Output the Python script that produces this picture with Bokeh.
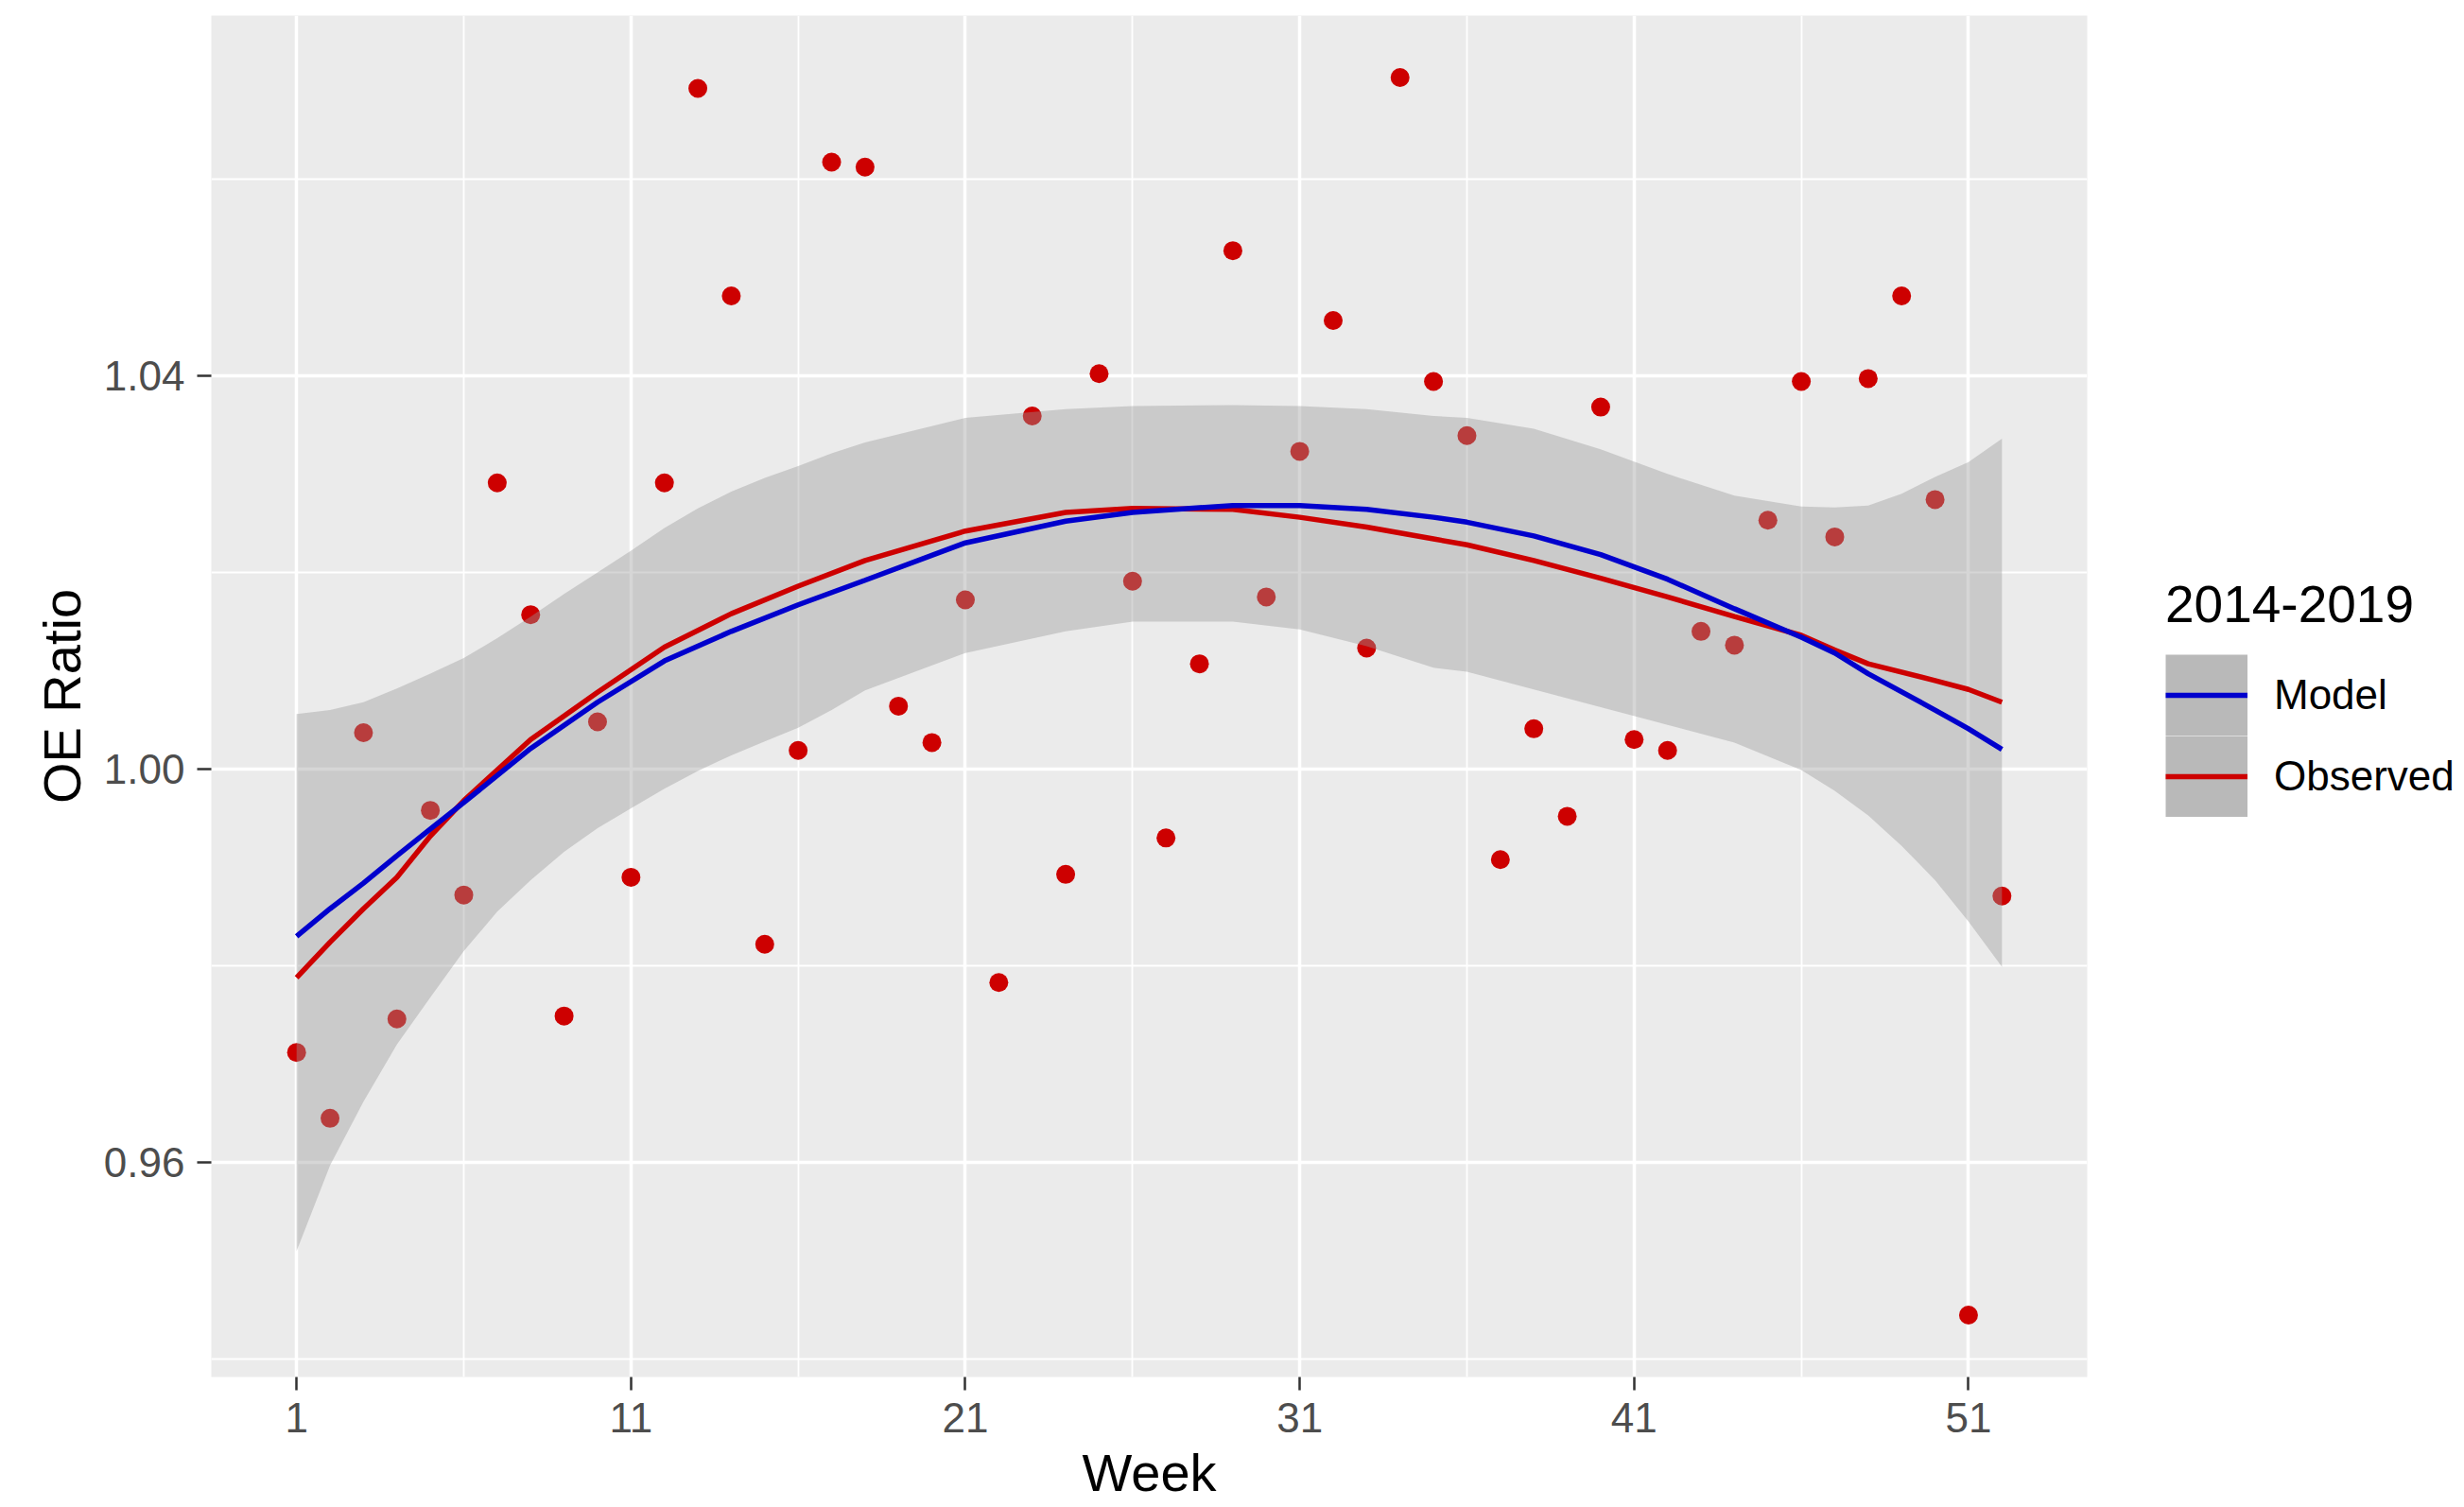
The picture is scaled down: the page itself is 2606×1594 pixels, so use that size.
from bokeh.plotting import figure
from bokeh.layouts import row
from bokeh.models import (Range1d, FixedTicker, PrintfTickFormatter, Legend,
                          LegendItem, ColumnDataSource)
from bokeh.embed import file_html
from bokeh.resources import INLINE

# ---- data ----
weeks = list(range(1, 53))
oe_ratio = [0.9712, 0.9645, 1.0037, 0.9746, 0.9958, 0.9872, 1.0291, 1.0157,
            0.9749, 1.0048, 0.9890, 1.0291, 1.0692, 1.0481, 0.9822, 1.0019,
            1.0617, 1.0612, 1.0064, 1.0027, 1.0172, 0.9783, 1.0359, 0.9893,
            1.0402, 1.0191, 0.9930, 1.0107, 1.0527, 1.0175, 1.0323, 1.0456,
            1.0123, 1.0703, 1.0394, 1.0339, 0.9908, 1.0041, 0.9952, 1.0368,
            1.0030, 1.0019, 1.0140, 1.0126, 1.0253, 1.0394, 1.0236, 1.0397,
            1.0481, 1.0274, 0.9445, 0.9871]

curve_weeks = [1, 2, 3, 4, 5, 6, 8, 10, 12, 14, 16, 18, 21, 24, 26, 29, 31, 33,
               35, 36, 38, 40, 42, 44, 46, 47, 48, 50, 51, 52]
model_fit = [0.9830, 0.9858, 0.9884, 0.9912, 0.9939, 0.9966, 1.0021, 1.0068,
             1.0110, 1.0140, 1.0167, 1.0192, 1.0230, 1.0252, 1.0261, 1.0268,
             1.0268, 1.0264, 1.0256, 1.0251, 1.0237, 1.0218, 1.0193, 1.0163,
             1.0134, 1.0118, 1.0097, 1.0060, 1.0041, 1.0020]
observed_fit = [0.9788, 0.9824, 0.9858, 0.9890, 0.9932, 0.9968, 1.0030, 1.0078,
                1.0124, 1.0158, 1.0186, 1.0212, 1.0242, 1.0261, 1.0265, 1.0264,
                1.0256, 1.0246, 1.0234, 1.0228, 1.0212, 1.0194, 1.0175, 1.0155,
                1.0136, 1.0121, 1.0107, 1.0090, 1.0081, 1.0068]

band_weeks = [1, 2, 3, 4, 5, 6, 7, 8, 9, 10, 11, 12, 13, 14, 15, 16, 17, 18, 21,
              24, 26, 29, 31, 33, 35, 36, 38, 40, 42, 44, 46, 47, 48, 49, 50,
              51, 52]
band_upper = [1.0056, 1.0060, 1.0068, 1.0082, 1.0097, 1.0113, 1.0133, 1.0155,
              1.0178, 1.0200, 1.0222, 1.0245, 1.0265, 1.0282, 1.0296, 1.0308,
              1.0321, 1.0332, 1.0357, 1.0366, 1.0369, 1.0370, 1.0369, 1.0366,
              1.0359, 1.0357, 1.0346, 1.0325, 1.0300, 1.0278, 1.0267, 1.0266,
              1.0268, 1.0280, 1.0297, 1.0312, 1.0336]
band_lower = [0.9510, 0.9597, 0.9662, 0.9720, 0.9768, 0.9815, 0.9855, 0.9887,
              0.9916, 0.9940, 0.9960, 0.9980, 0.9998, 1.0014, 1.0028, 1.0042,
              1.0060, 1.0080, 1.0118, 1.0140, 1.0150, 1.0150, 1.0142, 1.0125,
              1.0103, 1.0099, 1.0081, 1.0063, 1.0045, 1.0027, 0.9999, 0.9978,
              0.9953, 0.9922, 0.9887, 0.9845, 0.9799]

x_ticks = [1, 11, 21, 31, 41, 51]
x_minor = [6, 16, 26, 36, 46]
y_ticks = [0.96, 1.00, 1.04]
y_minor = [0.94, 0.98, 1.02, 1.06]

legend_title = "2014-2019"
series_names = ["Model", "Observed"]

FONT = "Liberation Sans"
RED = "#CD0000"
BLUE = "#0000CD"

pts = ColumnDataSource(dict(week=weeks, oe=oe_ratio))
band = ColumnDataSource(dict(week=band_weeks, lo=band_lower, hi=band_upper))
obs_src = ColumnDataSource(dict(week=curve_weeks, y=observed_fit))
mod_src = ColumnDataSource(dict(week=curve_weeks, y=model_fit))

# ---------------- main panel ----------------
p = figure(width=2217, height=1592, output_backend="svg", toolbar_location=None,
           x_range=Range1d(-1.55, 54.55), y_range=Range1d(0.9382, 1.0766),
           min_border_left=223, min_border_right=10, min_border_top=16,
           min_border_bottom=136,
           background_fill_color="#EBEBEB", border_fill_color="white",
           outline_line_color=None)

p.xaxis.ticker = FixedTicker(ticks=x_ticks, minor_ticks=x_minor)
p.yaxis.ticker = FixedTicker(ticks=y_ticks, minor_ticks=y_minor)
p.yaxis.formatter = PrintfTickFormatter(format="%.2f")
for g in (p.xgrid, p.ygrid):
    g.grid_line_color = "white"
    g.grid_line_width = 3.5
    g.minor_grid_line_color = "white"
    g.minor_grid_line_width = 1.8

for ax in (p.xaxis, p.yaxis):
    ax.axis_line_color = None
    ax.minor_tick_line_color = None
    ax.major_tick_line_color = "#333333"
    ax.major_tick_line_width = 2.5
    ax.major_tick_in = 0
    ax.major_label_text_font = FONT
    ax.major_label_text_font_size = "44px"
    ax.major_label_text_color = "#4D4D4D"
    ax.axis_label_text_font = FONT
    ax.axis_label_text_font_size = "56px"
    ax.axis_label_text_color = "black"
    ax.axis_label_text_font_style = "normal"

p.xaxis.axis_label = "Week"
p.xaxis.major_tick_out = 14
p.xaxis.major_label_standoff = 13
p.xaxis.axis_label_standoff = 8
p.yaxis.axis_label = "OE Ratio"
p.yaxis.major_tick_out = 15
p.yaxis.major_label_standoff = 13
p.yaxis.axis_label_standoff = 10

p.scatter("week", "oe", source=pts, size=20, fill_color=RED, line_color=None)
p.varea(x="week", y1="lo", y2="hi", source=band, fill_color="#999999",
        fill_alpha=0.4)
p.line("week", "y", source=obs_src, line_color=RED, line_width=5.5)
p.line("week", "y", source=mod_src, line_color=BLUE, line_width=5.5)

# ---------------- legend strip (same sources, nothing in view) ----------------
lg = figure(width=383, height=1592, output_backend="svg", toolbar_location=None,
            x_range=Range1d(-3, -2), y_range=Range1d(-3, -2),
            x_axis_type=None, y_axis_type=None,
            min_border_left=0, min_border_right=0, min_border_top=0,
            min_border_bottom=0, background_fill_color="white",
            border_fill_color="white", outline_line_color=None)
lg.xgrid.visible = False
lg.ygrid.visible = False
# key background: a very wide butt-capped stroke fills each key cell exactly
k_bg = lg.line("week", "hi", source=band, line_color="#B9B9B9", line_width=86,
               line_cap="butt")
k_obs = lg.line("week", "y", source=obs_src, line_color=RED, line_width=5.5)
k_mod = lg.line("week", "y", source=mod_src, line_color=BLUE, line_width=5.5)

legend = Legend(
    items=[LegendItem(label=series_names[0], renderers=[k_bg, k_mod]),
           LegendItem(label=series_names[1], renderers=[k_bg, k_obs])],
    location=(73, 592), title=legend_title,
    title_text_font=FONT, title_text_font_size="55px", title_text_color="black",
    title_text_font_style="normal", title_standoff=21,
    label_text_font=FONT, label_text_font_size="44px", label_text_color="black",
    glyph_width=87, glyph_height=86, spacing=0, label_standoff=28,
    padding=0, margin=0, border_line_color=None, background_fill_alpha=0)
lg.add_layout(legend, "center")

layout = row(p, lg)
open("out.html", "w").write(file_html(layout, INLINE, "OE Ratio by Week"))
